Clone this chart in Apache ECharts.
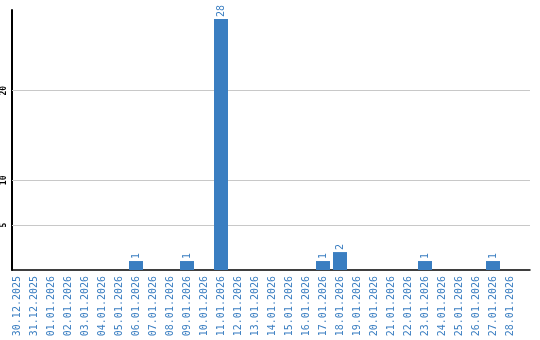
<!DOCTYPE html>
<html><head><meta charset="utf-8">
<script src="https://cdn.jsdelivr.net/npm/echarts@6/dist/echarts.min.js"></script>
<style>html,body{margin:0;padding:0;background:#fff}#c{width:540px;height:340px}</style>
</head><body><div id="c"></div>
<script>
const categories = ['30.12.2025','31.12.2025','01.01.2026','02.01.2026','03.01.2026','04.01.2026','05.01.2026','06.01.2026','07.01.2026','08.01.2026','09.01.2026','10.01.2026','11.01.2026','12.01.2026','13.01.2026','14.01.2026','15.01.2026','16.01.2026','17.01.2026','18.01.2026','19.01.2026','20.01.2026','21.01.2026','22.01.2026','23.01.2026','24.01.2026','25.01.2026','26.01.2026','27.01.2026','28.01.2026'];
const counts = [0,0,0,0,0,0,0,1,0,0,1,0,28,0,0,0,0,0,1,2,0,0,0,0,1,0,0,0,1,0];
const yTickLabels = [5,10,20];

const blue = '#3a7ec1';
const font = 'DejaVu Sans Mono';
const chart = echarts.init(document.getElementById('c'));
chart.setOption({
  animation:false,
  grid:[
    {left:8.5, right:21.5, top:10, bottom:70},
    {left:11, right:10, top:10, bottom:70}
  ],
  xAxis:[
    {type:'category', gridIndex:0, data:categories,
     axisLine:{show:false}, axisTick:{show:false},
     axisLabel:{interval:0, rotate:90, color:blue, fontFamily:font, fontSize:10, margin:6}},
    {type:'value', gridIndex:1, min:0, max:1, axisLine:{show:true, onZero:false, lineStyle:{color:'#000', width:1.5}},
     axisTick:{show:false}, axisLabel:{show:false}, splitLine:{show:false}}
  ],
  yAxis:[
    {type:'value', gridIndex:0, min:0, max:29, show:false},
    {type:'value', gridIndex:1, min:0, max:29, interval:5,
     axisLine:{show:true, lineStyle:{color:'#000', width:2}}, axisTick:{show:false},
     splitLine:{show:false},
     axisLabel:{rotate:90, color:'#000', fontFamily:font, fontSize:8, fontWeight:'bold', margin:4,
       formatter:v=> yTickLabels.indexOf(v)>=0 ? String(v) : ''}}
  ],
  series:[
    {type:'line', xAxisIndex:1, yAxisIndex:1, data:[], silent:true, z:1,
     markLine:{silent:true, symbol:'none', label:{show:false},
       lineStyle:{color:'#c8c8c8', type:'solid', width:1},
       data: yTickLabels.map(v=>({yAxis:v}))}},
    {type:'bar', xAxisIndex:0, yAxisIndex:0, data:counts, barWidth:14, z:5,
     itemStyle:{color:blue},
     label:{show:true, position:'top', rotate:90, align:'left', verticalAlign:'middle', distance:2,
       color:blue, fontFamily:font, fontSize:10,
       formatter:p=> p.value>0 ? String(p.value) : ''}}
  ]
});
</script></body></html>
